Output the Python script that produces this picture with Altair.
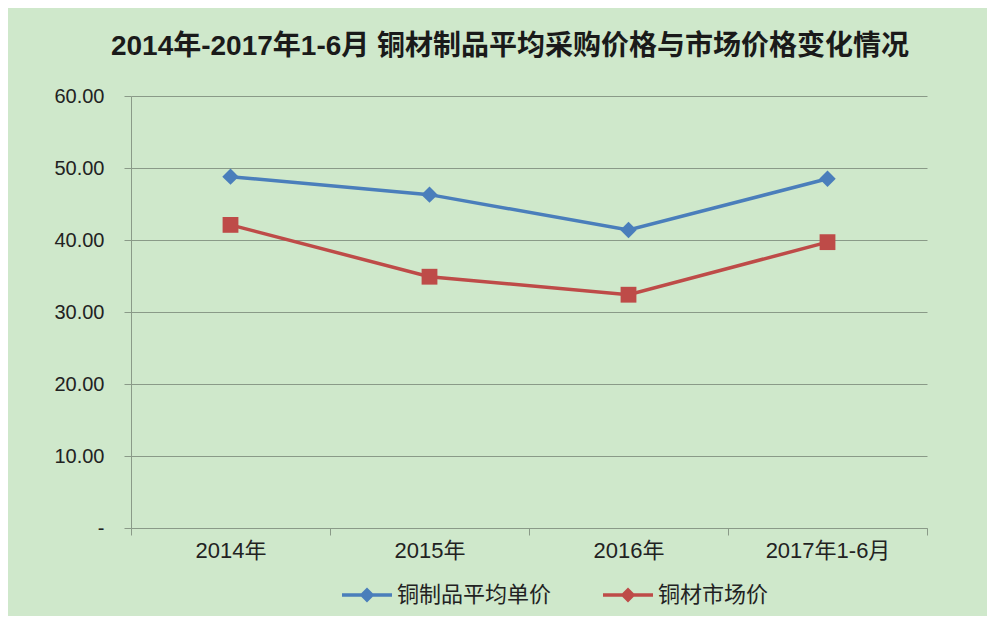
import altair as alt
import pandas as pd

categories = ["2014年", "2015年", "2016年", "2017年1-6月"]
series_names = ["铜制品平均单价", "铜材市场价"]
avg_unit_price = [48.8, 46.3, 41.4, 48.5]
market_price = [42.1, 34.9, 32.4, 39.7]
y_ticks = [0, 10, 20, 30, 40, 50, 60]
series_colors = ["#4a7ebb", "#be4b48"]
series_shapes = ["diamond", "square"]
title_text = "2014年-2017年1-6月 铜材制品平均采购价格与市场价格变化情况"

rows = []
for c, v in zip(categories, avg_unit_price):
    rows.append({"cat": c, "series": series_names[0], "value": v})
for c, v in zip(categories, market_price):
    rows.append({"cat": c, "series": series_names[1], "value": v})
df = pd.DataFrame(rows)

FONT = "Liberation Sans, Noto Sans CJK SC, sans-serif"
GRID = "#8a9a88"
TXT = "#222222"

color_scale = alt.Scale(domain=series_names, range=series_colors)

x_enc = alt.X(
    "cat:N", sort=categories, title=None, bandPosition=0.5,
    scale=alt.Scale(type="band", paddingInner=0, paddingOuter=0),
    axis=alt.Axis(labelAngle=0, tickBand="extent", tickSize=7, labelFontSize=22,
                  labelFont=FONT, labelColor=TXT, labelPadding=5, domainColor=GRID,
                  tickColor=GRID, grid=False),
)
y_enc = alt.Y(
    "value:Q", title=None, scale=alt.Scale(domain=[0, 60], nice=False),
    axis=alt.Axis(values=y_ticks,
                  labelExpr="datum.value == 0 ? '-' : format(datum.value, '.2f')",
                  grid=True, gridColor=GRID, domainColor=GRID, tickColor=GRID,
                  tickSize=7, labelFontSize=20, labelFont=FONT, labelColor=TXT,
                  labelPadding=20),
)

legend = alt.Legend(
    orient="none", legendX=209, legendY=472, direction="horizontal", title=None,
    symbolType="M-1,0H1M0,-0.2L0.2,0L0,0.2L-0.2,0Z", symbolSize=2500,
    symbolStrokeWidth=3.5, labelFontSize=22, labelFont=FONT, labelColor=TXT,
    columnPadding=44, labelOffset=3,
)
color_enc = alt.Color("series:N", scale=color_scale, legend=legend)

lines = alt.Chart(df).mark_line(strokeWidth=3.5).encode(
    x=x_enc, y=y_enc, color=color_enc,
)
point_layers = []
for name, shp, sz in zip(series_names, series_shapes, [270, 250]):
    point_layers.append(
        alt.Chart(df).transform_filter(alt.datum.series == name)
        .mark_point(filled=True, size=sz, opacity=1, shape=shp)
        .encode(x=x_enc, y=y_enc, color=color_enc)
    )

chart = alt.layer(lines, *point_layers).properties(
    width=796, height=432,
    autosize=alt.AutoSizeParams(type="none"),
    padding={"left": 123, "top": 88, "right": 60, "bottom": 88},
    background="#cfe8cb",
    title=alt.TitleParams(text=title_text, fontSize=28, fontWeight="bold", font=FONT,
                          color="#1a1a1a", anchor="middle", frame="group",
                          offset=25, dx=-19),
).configure_view(stroke=None)

chart.save("out.html", embed_options={"renderer": "svg", "actions": False})
